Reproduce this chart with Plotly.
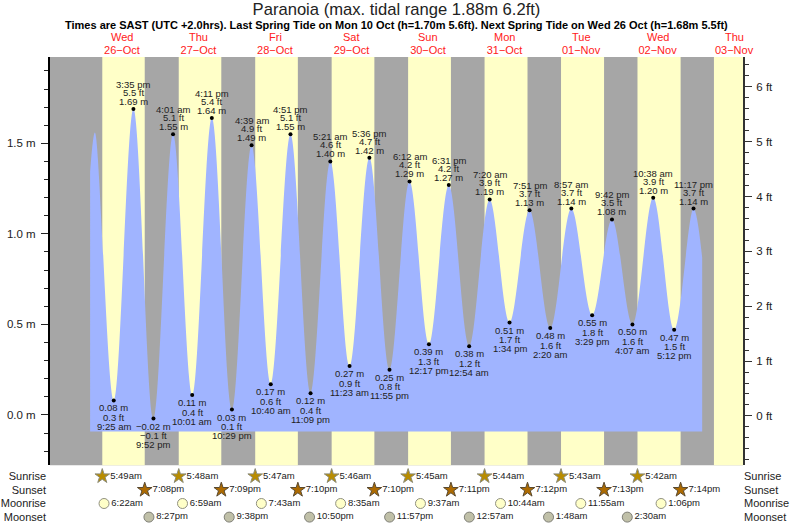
import pandas as pd
import plotly.graph_objects as go

tide_times = [
    "2022-10-26 09:25", "2022-10-26 15:35", "2022-10-26 21:52", "2022-10-27 04:01", "2022-10-27 10:01",
    "2022-10-27 16:11", "2022-10-27 22:29", "2022-10-28 04:39", "2022-10-28 10:40", "2022-10-28 16:51",
    "2022-10-28 23:09", "2022-10-29 05:21", "2022-10-29 11:23", "2022-10-29 17:36", "2022-10-29 23:55",
    "2022-10-30 06:12", "2022-10-30 12:17", "2022-10-30 18:31", "2022-10-31 00:54", "2022-10-31 07:20",
    "2022-10-31 13:34", "2022-10-31 19:51", "2022-11-01 02:20", "2022-11-01 08:57", "2022-11-01 15:29",
    "2022-11-01 21:42", "2022-11-02 04:07", "2022-11-02 10:38", "2022-11-02 17:12", "2022-11-02 23:17",
]
tide_m = [0.08, 1.69, -0.02, 1.55, 0.11, 1.64, 0.03, 1.49, 0.17, 1.55, 0.12, 1.40, 0.27, 1.42, 0.25,
          1.29, 0.39, 1.27, 0.38, 1.19, 0.51, 1.13, 0.48, 1.14, 0.55, 1.08, 0.50, 1.20, 0.47, 1.14]
tide_ft = [0.3, 5.5, -0.1, 5.1, 0.4, 5.4, 0.1, 4.9, 0.6, 5.1, 0.4, 4.6, 0.9, 4.7, 0.8,
           4.2, 1.3, 4.2, 1.2, 3.9, 1.7, 3.7, 1.6, 3.7, 1.8, 3.5, 1.6, 3.9, 1.5, 3.7]

# ends of the drawn curve, not labelled in the chart
curve_head_times = ["2022-10-26 02:00", "2022-10-26 03:30"]
curve_head_m = [1.345, 1.56]
curve_tail_times = ["2022-11-03 02:00"]
curve_tail_m = [0.868]
fill_floor_m = -0.092

days = ["2022-10-26", "2022-10-27", "2022-10-28", "2022-10-29", "2022-10-30",
        "2022-10-31", "2022-11-01", "2022-11-02", "2022-11-03"]
day_names = ["Wed", "Thu", "Fri", "Sat", "Sun", "Mon", "Tue", "Wed", "Thu"]
day_labels = ["26−Oct", "27−Oct", "28−Oct", "29−Oct", "30−Oct", "31−Oct", "01−Nov", "02−Nov", "03−Nov"]

sunrise = ["2022-10-26 05:49", "2022-10-27 05:48", "2022-10-28 05:47", "2022-10-29 05:46",
           "2022-10-30 05:45", "2022-10-31 05:44", "2022-11-01 05:43", "2022-11-02 05:42"]
sunset = ["2022-10-26 19:08", "2022-10-27 19:09", "2022-10-28 19:10", "2022-10-29 19:10",
          "2022-10-30 19:11", "2022-10-31 19:12", "2022-11-01 19:13", "2022-11-02 19:14"]
moonrise = ["2022-10-26 06:22", "2022-10-27 06:59", "2022-10-28 07:43", "2022-10-29 08:35",
            "2022-10-30 09:37", "2022-10-31 10:44", "2022-11-01 11:55", "2022-11-02 13:06"]
moonset = ["2022-10-26 20:27", "2022-10-27 21:38", "2022-10-28 22:50", "2022-10-29 23:57",
           "2022-10-31 00:57", "2022-11-01 01:48", "2022-11-02 02:30"]
last_sunrise = "2022-11-03 05:41"

x_range = ["2022-10-25 13:25", "2022-11-03 14:48"]
row_names = ["Sunrise", "Sunset", "Moonrise", "Moonset"]

FONT = "Liberation Sans"
TEXT = "#222222"
GREY = "#a6a6a6"
YELLOW = "#ffffc8"
BLUE = "#a0b4ff"


def clock(t):
    return pd.Timestamp(t).strftime("%-I:%M%p").lower()


def tide_clock(t):
    return pd.Timestamp(t).strftime("%-I:%M %p").lower()


def signed(text):
    return text.replace("-", "−")


fig = go.Figure()

# night background, then daylight bands, under everything
shapes = [dict(type="rect", xref="x domain", yref="y domain", x0=0, x1=1, y0=0, y1=1,
               fillcolor=GREY, line_width=0, layer="below")]
band_starts = sunrise + [last_sunrise]
band_ends = sunset + [x_range[1]]
for start, end in zip(band_starts, band_ends):
    shapes.append(dict(type="rect", xref="x", yref="y domain", x0=start, x1=end, y0=0, y1=1,
                       fillcolor=YELLOW, line_width=0, layer="below"))

curve_times = curve_head_times + tide_times + curve_tail_times
curve_m = curve_head_m + tide_m + curve_tail_m

fig.add_trace(go.Scatter(x=[curve_times[0], curve_times[-1]], y=[fill_floor_m, fill_floor_m],
                         mode="lines", line=dict(width=0), showlegend=False, hoverinfo="skip"))
fig.add_trace(go.Scatter(x=curve_times, y=curve_m, mode="lines", fill="tonexty", fillcolor=BLUE,
                         line=dict(width=0, shape="spline", smoothing=1), showlegend=False))
fig.add_trace(go.Scatter(x=tide_times, y=tide_m, mode="markers", showlegend=False,
                         marker=dict(color="black", size=4)))

# the right hand axes need a trace to stay drawn
fig.add_trace(go.Scatter(x=tide_times, y=tide_ft, yaxis="y3", mode="markers", showlegend=False,
                         marker=dict(opacity=0), hoverinfo="skip"))
fig.add_trace(go.Scatter(x=sunrise[:4], y=[0, 1, 2, 3], yaxis="y4", mode="markers", showlegend=False,
                         marker=dict(opacity=0), hoverinfo="skip"))

rows = [
    (sunrise, 0, "star", 11, "#b88c00", "#8c8c78"),
    (sunset, 1, "star", 11, "#ad6a00", "#5a4a30"),
    (moonrise, 2, "circle", 10, "#ffffc8", "#909080"),
    (moonset, 3, "circle", 10, "#c0c0a8", "#808078"),
]
for times, row, symbol, size, colour, edge in rows:
    fig.add_trace(go.Scatter(
        x=times, y=[row] * len(times), yaxis="y2", mode="markers+text",
        text=[clock(t) for t in times], textposition="middle right",
        textfont=dict(family=FONT, size=9.5, color=TEXT), showlegend=False,
        marker=dict(symbol=symbol, size=size, color=colour, line=dict(color=edge, width=1)),
    ))

annotations = []
for i, t in enumerate(tide_times):
    is_high = tide_m[i] > tide_m[i - 1] if i else False
    lines = [signed(f"{tide_m[i]:.2f} m"), signed(f"{tide_ft[i]:.1f} ft"), tide_clock(t)]
    offsets = [7.5, 16.5, 24.5] if is_high else [-7.5, -17, -26]
    for text, off in zip(lines, offsets):
        annotations.append(dict(x=t, y=tide_m[i], xref="x", yref="y", text=text, showarrow=False,
                                xanchor="center", yanchor="middle", yshift=off,
                                font=dict(family=FONT, size=9.5, color=TEXT)))

noons = [d + " 12:00" for d in days]
for name, noon in zip(day_names, noons):
    annotations.append(dict(x=noon, y=1, xref="x", yref="paper", text=name, showarrow=False,
                            xanchor="center", yanchor="middle", yshift=20,
                            font=dict(family=FONT, size=11, color="#ff2020")))

annotations.append(dict(x=0.5, y=1, xref="paper", yref="paper", yanchor="middle", yshift=32,
                        showarrow=False,
                        text="<b>Times are SAST (UTC +2.0hrs). Last Spring Tide on Mon 10 Oct (h=1.70m 5.6ft). "
                             "Next Spring Tide on Wed 26 Oct (h=1.68m 5.5ft)</b>",
                        font=dict(family=FONT, size=11, color="black")))

plot_bottom = (525 - 465.3) / (525 - 57.3)

fig.update_layout(
    width=793, height=525,
    margin=dict(l=50, r=50, t=57.3, b=0, autoexpand=False),
    paper_bgcolor="white", plot_bgcolor="white",
    showlegend=False,
    shapes=shapes,
    annotations=annotations,
    title=dict(text="Paranoia (max. tidal range 1.88m 6.2ft)", x=0.5, xanchor="center",
               y=1 - 9 / 525, yanchor="middle", font=dict(family=FONT, size=16.6, color=TEXT)),
    xaxis=dict(type="date", range=x_range, side="top", anchor="y", showgrid=False, zeroline=False,
               tickmode="array", tickvals=noons, ticktext=day_labels, ticks="", showline=False,
               tickfont=dict(family=FONT, size=11, color="#ff2020")),
    yaxis=dict(domain=[plot_bottom, 1], range=[-0.278, 1.977], showgrid=False, zeroline=False,
               showline=True, linecolor="black", linewidth=2, tickmode="array",
               tickvals=[0, 0.5, 1.0, 1.5], ticktext=["0.0 m", "0.5 m", "1.0 m", "1.5 m"],
               ticks="outside", ticklen=7, tickcolor="#222222", ticklabelstandoff=3,
               minor=dict(dtick=0.1, ticks="outside", ticklen=4, tickcolor="#222222"),
               tickfont=dict(family=FONT, size=11.5, color=TEXT)),
    yaxis2=dict(domain=[0, plot_bottom], range=[3.58, -0.81], showgrid=False, zeroline=False,
                tickmode="array", tickvals=[0, 1, 2, 3], ticktext=row_names, ticks="",
                anchor="x", ticklabelstandoff=3, tickfont=dict(family=FONT, size=11, color=TEXT)),
    yaxis3=dict(domain=[plot_bottom, 1], range=[-0.899, 6.542], overlaying="y", side="right", anchor="x",
                showgrid=False, zeroline=False, showline=True, linecolor="#333333", linewidth=2,
                tickmode="array", tickvals=[0, 1, 2, 3, 4, 5, 6],
                ticktext=[f"{v} ft" for v in [0, 1, 2, 3, 4, 5, 6]],
                ticks="outside", ticklen=7, tickcolor="#333333", ticklabelstandoff=2,
                minor=dict(dtick=0.2, ticks="outside", ticklen=4, tickcolor="#333333"),
                tickfont=dict(family=FONT, size=11.5, color=TEXT)),
    yaxis4=dict(domain=[0, plot_bottom], range=[3.58, -0.81], overlaying="y2", side="right", anchor="x",
                showgrid=False, zeroline=False, tickmode="array", tickvals=[0, 1, 2, 3],
                ticktext=row_names, ticks="", tickfont=dict(family=FONT, size=11, color=TEXT)),
)

# the page's default body margin would push the figure 8px off
fig.write_html("out.html", config=dict(displayModeBar=False),
               post_script="document.body.style.margin='0';document.documentElement.style.overflow='hidden';")
